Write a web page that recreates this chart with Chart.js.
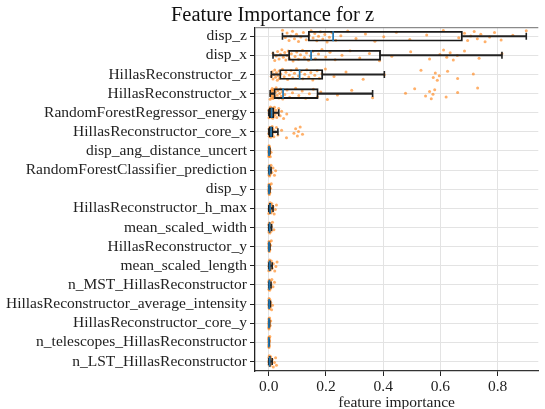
<!DOCTYPE html>
<html>
<head>
<meta charset="utf-8">
<script src="https://cdn.jsdelivr.net/npm/chart.js@4.4.1/dist/chart.umd.min.js"></script>
<style>
  html, body { margin: 0; padding: 0; background: #fff; overflow: hidden; }
</style>
</head>
<body>
<canvas id="chart" width="545" height="409"></canvas>
<script>
// Features, ordered from most to least important.
const features = [
  "disp_z", "disp_x", "HillasReconstructor_z", "HillasReconstructor_x",
  "RandomForestRegressor_energy", "HillasReconstructor_core_x",
  "disp_ang_distance_uncert", "RandomForestClassifier_prediction", "disp_y",
  "HillasReconstructor_h_max", "mean_scaled_width", "HillasReconstructor_y",
  "mean_scaled_length", "n_MST_HillasReconstructor",
  "HillasReconstructor_average_intensity", "HillasReconstructor_core_y",
  "n_telescopes_HillasReconstructor", "n_LST_HillasReconstructor"
];

// Box statistics per feature.
const whiskerLow  = [0.048, 0.015, 0.009, 0.005, 0.0,   0.0,   0, 0, 0, 0, 0, 0, 0, 0, 0, 0, 0, 0];
const q1          = [0.138, 0.069, 0.038, 0.018, 0.002, 0.002, 0.0005, 0.001, 0.0005, 0.002, 0.001, 0.0005, 0.001, 0.001, 0.0008, 0.0003, 0.0002, 0.001];
const median      = [0.225, 0.148, 0.108, 0.050, 0.010, 0.008, 0.001, 0.002, 0.001, 0.005, 0.003, 0.001, 0.003, 0.002, 0.0015, 0.0008, 0.0005, 0.003];
const q3          = [0.677, 0.391, 0.189, 0.173, 0.018, 0.015, 0.002, 0.004, 0.002, 0.008, 0.005, 0.002, 0.006, 0.004, 0.003, 0.0015, 0.001, 0.006];
const whiskerHigh = [0.900, 0.815, 0.404, 0.363, 0.035, 0.032, 0.004, 0.008, 0.004, 0.015, 0.010, 0.004, 0.012, 0.008, 0.006, 0.003, 0.002, 0.012];

// Individual importance scores per feature.
const scores = [
  [0.048, 0.058, 0.064, 0.071, 0.077, 0.083, 0.09, 0.097, 0.104, 0.112, 0.121, 0.131,
   0.141, 0.148, 0.155, 0.161, 0.168, 0.174, 0.181, 0.189, 0.196, 0.204, 0.212, 0.221,
   0.234, 0.252, 0.276, 0.305, 0.338, 0.371, 0.402, 0.446, 0.493, 0.552, 0.61, 0.664,
   0.684, 0.695, 0.706, 0.718, 0.729, 0.741, 0.756, 0.772, 0.789, 0.812, 0.853, 0.9],
  [0.015, 0.021, 0.026, 0.031, 0.036, 0.041, 0.046, 0.051, 0.056, 0.06, 0.064, 0.068,
   0.072, 0.079, 0.085, 0.092, 0.098, 0.104, 0.111, 0.118, 0.125, 0.132, 0.139, 0.146,
   0.154, 0.163, 0.174, 0.186, 0.199, 0.214, 0.232, 0.256, 0.284, 0.318, 0.352, 0.387,
   0.43, 0.496, 0.562, 0.598, 0.611, 0.622, 0.634, 0.645, 0.659, 0.684, 0.735, 0.815],
  [0.009, 0.012, 0.015, 0.018, 0.021, 0.024, 0.027, 0.03, 0.033, 0.036, 0.037,
   0.042, 0.048, 0.054, 0.06, 0.066, 0.072, 0.078, 0.084, 0.09, 0.097, 0.104,
   0.112, 0.119, 0.126, 0.133, 0.14, 0.147, 0.154, 0.161, 0.169, 0.177, 0.186,
   0.198, 0.228, 0.27, 0.33, 0.404, 0.532, 0.575, 0.582, 0.589, 0.596, 0.625, 0.66, 0.715],
  [0.005, 0.007, 0.009, 0.01, 0.011, 0.012, 0.013, 0.014, 0.015, 0.016, 0.017,
   0.02, 0.023, 0.026, 0.029, 0.032, 0.035, 0.038, 0.041, 0.044, 0.047, 0.049,
   0.056, 0.064, 0.073, 0.083, 0.094, 0.105, 0.117, 0.129, 0.142, 0.156, 0.17,
   0.182, 0.205, 0.24, 0.29, 0.363, 0.478, 0.51, 0.548, 0.562, 0.568, 0.574, 0.58, 0.62, 0.66, 0.73],
  [0.0, 0.001, 0.002, 0.003, 0.004, 0.005, 0.006, 0.007, 0.008, 0.009, 0.01, 0.011, 0.012,
   0.013, 0.014, 0.015, 0.016, 0.017, 0.018, 0.02, 0.022, 0.025, 0.028, 0.031, 0.035,
   0.04, 0.045, 0.052, 0.063],
  [0.0, 0.001, 0.002, 0.003, 0.004, 0.005, 0.006, 0.007, 0.008, 0.009, 0.01, 0.011, 0.012,
   0.013, 0.015, 0.018, 0.022, 0.027, 0.032, 0.045, 0.062, 0.088, 0.094, 0.1, 0.104, 0.11, 0.118],
  [0, 0.0002, 0.0004, 0.0006, 0.0008, 0.001, 0.0012, 0.0015, 0.0018, 0.002, 0.0025, 0.003, 0.004, 0.0055, 0.008],
  [0, 0.0005, 0.001, 0.0015, 0.002, 0.0025, 0.003, 0.0035, 0.004, 0.005, 0.006, 0.008, 0.011, 0.015, 0.02, 0.024],
  [0, 0.0002, 0.0005, 0.0008, 0.001, 0.0012, 0.0015, 0.002, 0.0025, 0.003, 0.004, 0.006, 0.009],
  [0, 0.001, 0.002, 0.003, 0.004, 0.005, 0.006, 0.007, 0.008, 0.009, 0.011, 0.013, 0.015, 0.019, 0.023, 0.027],
  [0, 0.0005, 0.001, 0.0015, 0.002, 0.003, 0.004, 0.005, 0.006, 0.008, 0.01, 0.013, 0.018],
  [0, 0.0002, 0.0005, 0.0008, 0.001, 0.0012, 0.0015, 0.002, 0.0025, 0.003, 0.004, 0.006, 0.009],
  [0, 0.0005, 0.001, 0.0015, 0.002, 0.003, 0.004, 0.005, 0.006, 0.007, 0.009, 0.012, 0.016, 0.021, 0.025, 0.029],
  [0, 0.0005, 0.001, 0.0015, 0.002, 0.0025, 0.003, 0.004, 0.005, 0.006, 0.008, 0.011, 0.015, 0.02],
  [0, 0.0004, 0.0008, 0.001, 0.0012, 0.0015, 0.002, 0.0025, 0.003, 0.004, 0.005, 0.007, 0.01, 0.013],
  [0, 0.0001, 0.0003, 0.0005, 0.0008, 0.001, 0.0012, 0.0015, 0.002, 0.0025, 0.003, 0.005, 0.007],
  [0, 0.0001, 0.0002, 0.0004, 0.0005, 0.0007, 0.001, 0.0012, 0.0015, 0.002, 0.003, 0.004],
  [0, 0.0005, 0.001, 0.0015, 0.002, 0.003, 0.004, 0.005, 0.006, 0.007, 0.009, 0.012, 0.016, 0.02, 0.024, 0.027]
];

const xTicks = [0, 0.2, 0.4, 0.6, 0.8];

const FONT = "'Liberation Serif', 'DejaVu Serif', serif";
const rows = features.map((_, i) => i);

// Vertical spread of the strip points inside each row (golden-ratio sequence).
const spread = k => (((k * 0.6180339887) % 1) - 0.5) * 0.62;

const boxData = rows.map(i => ({ y: i, x: [q1[i], q3[i]] }));
const lowWhiskers = rows.map(i => ({ y: i, x: [whiskerLow[i], q1[i]] }));
const highWhiskers = rows.map(i => ({ y: i, x: [q3[i], whiskerHigh[i]] }));
const caps = rows.flatMap(i => [{ x: whiskerLow[i], y: i }, { x: whiskerHigh[i], y: i }]);
const medians = rows.map(i => ({ x: median[i], y: i }));
const strip = rows.flatMap(i => scores[i].map((v, k) => ({ x: v, y: i + spread(k + i * 7) })));

const whiskerStyle = {
  type: 'bar', indexAxis: 'y', grouped: false, barThickness: 1.4,
  backgroundColor: '#222', borderWidth: 0
};

// Thin top frame line of the plotting area.
const topFrame = {
  id: 'topFrame',
  beforeDatasetsDraw(chart) {
    const { ctx, chartArea: a } = chart;
    ctx.save();
    ctx.strokeStyle = '#8a8a8a';
    ctx.lineWidth = 1.2;
    ctx.beginPath();
    ctx.moveTo(a.left, a.top);
    ctx.lineTo(a.right, a.top);
    ctx.stroke();
    ctx.restore();
  }
};

new Chart(document.getElementById('chart'), {
  type: 'scatter',
  data: {
    datasets: [
      { type: 'scatter', data: medians, order: 0, pointStyle: 'line', rotation: 90,
        pointRadius: 5, pointHoverRadius: 5, borderColor: '#1f77b4', borderWidth: 1.7 },
      { type: 'bar', indexAxis: 'y', data: boxData, order: 1, grouped: false, barThickness: 10,
        backgroundColor: 'rgba(0,0,0,0)', borderColor: '#1a1a1a', borderWidth: 1.2, borderSkipped: false },
      { type: 'scatter', data: caps, order: 2, pointStyle: 'line', rotation: 90,
        pointRadius: 3.5, pointHoverRadius: 3.5, borderColor: '#222', borderWidth: 1.6 },
      Object.assign({ data: lowWhiskers, order: 3 }, whiskerStyle),
      Object.assign({ data: highWhiskers, order: 3 }, whiskerStyle),
      { type: 'scatter', data: strip, order: 4, pointRadius: 1.5, pointHoverRadius: 1.5,
        backgroundColor: 'rgba(255,127,14,0.62)', borderWidth: 0 }
    ]
  },
  options: {
    responsive: false,
    animation: false,
    layout: { padding: 0 },
    plugins: {
      legend: { display: false },
      tooltip: { enabled: false },
      title: {
        display: true,
        text: 'Feature Importance for z',
        color: '#111',
        font: { family: FONT, size: 20.5, weight: 'normal' },
        padding: { top: 3, bottom: 0 }
      }
    },
    scales: {
      x: {
        type: 'linear',
        min: -0.048,
        max: 0.942,
        offset: false,
        afterBuildTicks: s => { s.ticks = xTicks.map(v => ({ value: v })); },
        afterFit: s => { s.height = 38; },
        ticks: {
          callback: v => v.toFixed(1),
          color: '#222',
          padding: 2,
          font: { family: FONT, size: 15.5 }
        },
        grid: { color: '#e3e3e3', lineWidth: 1, tickColor: '#222', tickLength: 5, offset: false },
        border: { color: '#333', width: 1.3 },
        title: {
          display: true,
          text: 'feature importance',
          color: '#222',
          font: { family: FONT, size: 15.5 },
          padding: { top: 0, bottom: -3 }
        }
      },
      y: {
        type: 'linear',
        reverse: true,
        min: -0.45,
        max: 17.5,
        offset: false,
        afterBuildTicks: s => { s.ticks = rows.map(i => ({ value: i })); },
        afterFit: s => { s.width = 255; },
        ticks: {
          autoSkip: false,
          callback: v => features[Math.round(v)],
          color: '#222',
          padding: 3,
          font: { family: FONT, size: 15.5 }
        },
        grid: { color: '#e3e3e3', lineWidth: 1, tickColor: '#222', tickLength: 5, offset: false },
        border: { color: '#222', width: 1.3 }
      }
    }
  },
  plugins: [topFrame]
});
</script>
</body>
</html>
